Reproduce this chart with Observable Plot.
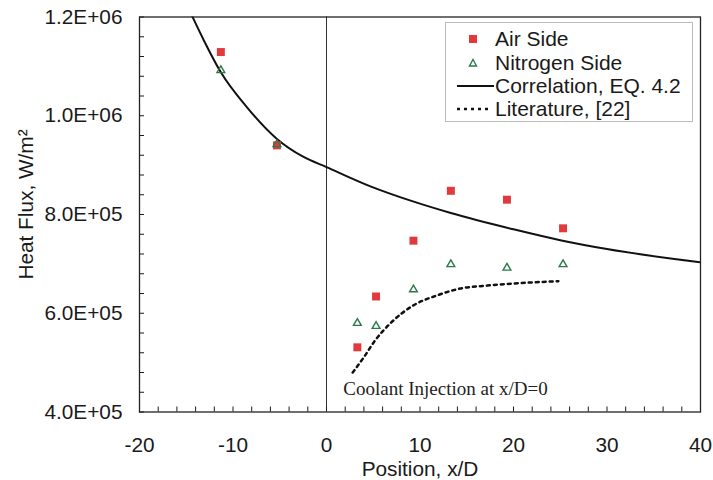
<!DOCTYPE html>
<html><head><meta charset="utf-8">
<script src="https://cdn.jsdelivr.net/npm/d3@7"></script>
<script src="https://cdn.jsdelivr.net/npm/@observablehq/plot@0.6"></script>
<style>
body{margin:0;background:#fff;}
#wrap{position:relative;width:713px;height:480px;font-family:"Liberation Sans",Arial,sans-serif;color:#1a1a1a;}
#wrap svg g[aria-label="x-axis tick label"] text,
#wrap svg g[aria-label="y-axis tick label"] text,
#wrap svg g[aria-label="x-axis label"] text,
#wrap svg g[aria-label="y-axis label"] text{font-size:20.8px;font-family:"Liberation Sans",Arial,sans-serif;}
#legend{position:absolute;left:445px;top:22px;width:246px;height:98px;border:1.5px solid #bbb;background:#fff;}
.item{position:absolute;left:0;width:246px;height:24px;}
.item svg{position:absolute;left:10px;top:0;}
.item span{position:absolute;left:49px;top:0;line-height:24px;font-size:21px;white-space:nowrap;}
</style>
</head><body>
<div id="wrap"></div>
<script>
// Data
const airX = [-11.3, -5.3, 3.3, 5.3, 9.3, 13.3, 19.3, 25.3];
const airY = [1.129e6, 9.40e5, 5.31e5, 6.34e5, 7.47e5, 8.48e5, 8.30e5, 7.72e5];
const nitroX = [-11.3, -5.3, 3.3, 5.3, 9.3, 13.3, 19.3, 25.3];
const nitroY = [1.092e6, 9.42e5, 5.80e5, 5.74e5, 6.48e5, 6.99e5, 6.92e5, 6.99e5];
const corrX = [-14.4, -13.1, -11.3, -8.5, -5.3, -2.5, 0, 4.7, 9, 13.3, 20, 25, 30, 40];
const corrY = [1.203e6, 1.152e6, 1.088e6, 1.017e6, 9.53e5, 9.17e5, 8.96e5, 8.57e5, 8.28e5, 8.03e5, 7.70e5, 7.48e5, 7.30e5, 7.03e5];
const litX = [2.8, 4.0, 5.2, 6.8, 9.3, 11.8, 14.3, 17.2, 20.7, 24.8];
const litY = [4.80e5, 5.11e5, 5.45e5, 5.79e5, 6.16e5, 6.36e5, 6.50e5, 6.56e5, 6.61e5, 6.65e5];
const xTickValues = [-20, -10, 0, 10, 20, 30, 40];
const yTickValues = [4e5, 6e5, 8e5, 1e6, 1.2e6];
const xLabel = "Position, x/D";
const yLabel = "Heat Flux, W/m²";
const noteText = ["Coolant Injection at x/D=0"];
const noteX = [1.8];
const noteY = [4.46e5];
const legendLabels = ["Air Side", "Nitrogen Side", "Correlation, EQ. 4.2", "Literature, [22]"];

const air = airX.map((x, i) => ({x, y: airY[i]}));
const nitro = nitroX.map((x, i) => ({x, y: nitroY[i]}));
const corr = corrX.map((x, i) => ({x, y: corrY[i]}));
const lit = litX.map((x, i) => ({x, y: litY[i]}));
const note = noteText.map((t, i) => ({text: t, x: noteX[i], y: noteY[i]}));

const fmt = d => {
  const [m, e] = d.toExponential(1).split("e");
  const s = +e < 0 ? "-" : "+";
  return m + "E" + s + String(Math.abs(+e)).padStart(2, "0");
};

const FS = 20.8;
const chart = Plot.plot({
  width: 713, height: 480,
  marginLeft: 139, marginRight: 13, marginTop: 16.5, marginBottom: 68.5,
  style: {fontFamily: "'Liberation Sans', Arial, sans-serif", fontSize: FS + "px", color: "#1a1a1a", background: "#fff"},
  x: {domain: [-20, 40]},
  y: {domain: [4e5, 1.2e6]},
  marks: [
    Plot.ruleX([0], {stroke: "#333", strokeWidth: 1}),
    Plot.axisX({ticks: d3.range(-10, 21).map(i => i * 2), tickSize: -5, tickFormat: () => "", label: null}),
    Plot.axisX({ticks: xTickValues, tickSize: 0, tickPadding: 25, tickFormat: d => String(d), fontSize: FS,
      label: xLabel, labelAnchor: "center", labelArrow: "none", labelOffset: 64}),
    Plot.axisY({ticks: d3.range(10, 31).map(i => i * 4e4), tickSize: -5, tickFormat: () => "", label: null}),
    Plot.axisY({ticks: yTickValues, tickSize: 0, tickPadding: 17, tickFormat: fmt, fontSize: FS,
      label: yLabel, labelAnchor: "center", labelArrow: "none", labelOffset: 121}),
    Plot.frame({stroke: "#222", strokeWidth: 1.3}),
    Plot.line(corr, {x: "x", y: "y", curve: "monotone-x", stroke: "#111", strokeWidth: 2, clip: true}),
    Plot.line(lit, {x: "x", y: "y", curve: "monotone-x", stroke: "#111", strokeWidth: 2.5, strokeDasharray: "3,4"}),
    Plot.dot(air, {x: "x", y: "y", symbol: "square", r: 4.5, fill: "#e03a3e", stroke: "none"}),
    Plot.dot(nitro, {x: "x", y: "y", symbol: "triangle", r: 2.9, fill: "none", stroke: "#2a7a4a", strokeWidth: 1.4}),
    Plot.text(note, {x: "x", y: "y", text: "text", textAnchor: "start", fontFamily: "'Liberation Serif', 'Times New Roman', serif", fontSize: 19, fill: "#222"})
  ]
});

// nudge the rotated y-axis title slightly upward, as in the reference
d3.select(chart).selectAll('g[aria-label="y-axis label"] text').attr("dx", 10);

const wrap = document.getElementById("wrap");
wrap.appendChild(chart);

// Legend overlay
const legend = document.createElement("div");
legend.id = "legend";
const icons = [
  '<svg width="34" height="24"><rect x="13" y="8" width="8" height="8" fill="#e03a3e"/></svg>',
  '<svg width="34" height="24"><path d="M17,8.5 L20.5,15 L13.5,15 Z" fill="none" stroke="#2a7a4a" stroke-width="1.4"/></svg>',
  '<svg width="38" height="24"><line x1="1" y1="12" x2="38" y2="12" stroke="#111" stroke-width="2"/></svg>',
  '<svg width="34" height="24"><line x1="1" y1="12" x2="34" y2="12" stroke="#111" stroke-width="2.5" stroke-dasharray="3,4"/></svg>'
];
const rowTops = [4, 27.7, 51, 74];
legendLabels.forEach((lab, i) => {
  const it = document.createElement("div");
  it.className = "item";
  it.style.top = rowTops[i] + "px";
  it.innerHTML = icons[i] + "<span></span>";
  it.querySelector("span").textContent = lab;
  legend.appendChild(it);
});
wrap.appendChild(legend);
</script>
</body></html>
